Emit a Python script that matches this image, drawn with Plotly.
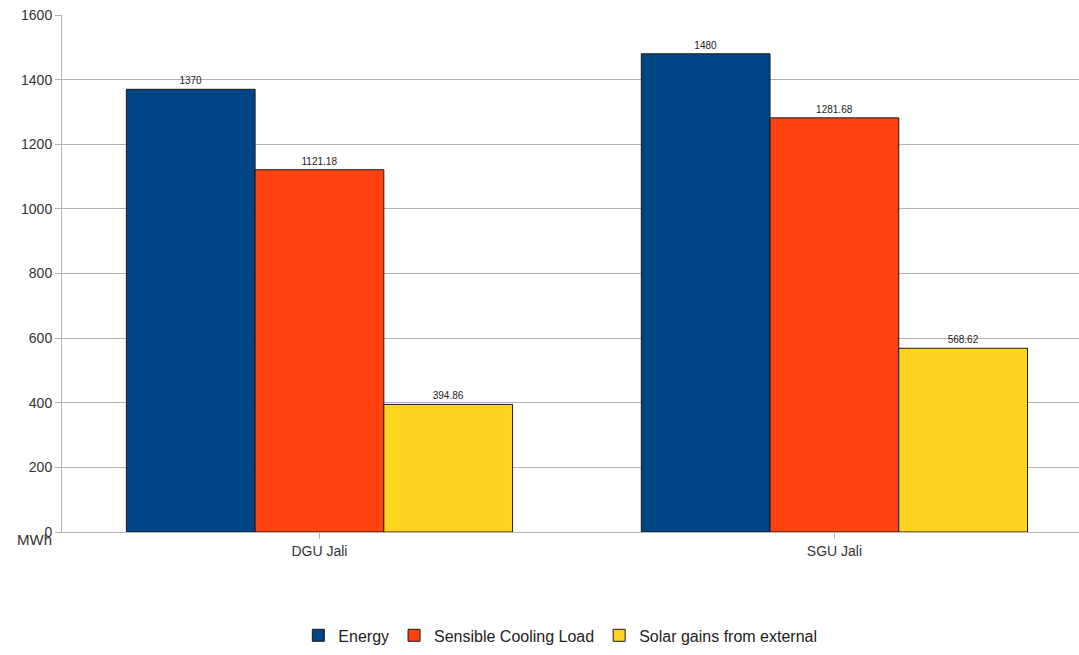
import plotly.graph_objects as go

categories = ["DGU Jali", "SGU Jali"]
series_names = ["Energy", "Sensible Cooling Load", "Solar gains from external"]
energy = [1370, 1480]
sensible_cooling = [1121.18, 1281.68]
solar_gains = [394.86, 568.62]
colors = ["#004586", "#ff420e", "#ffd320"]
y_ticks = [0, 200, 400, 600, 800, 1000, 1200, 1400, 1600]

fig = go.Figure()
for name, vals, col in zip(series_names, [energy, sensible_cooling, solar_gains], colors):
    fig.add_trace(go.Bar(
        x=categories, y=vals, name=name,
        marker=dict(color=col, line=dict(color="#1a1a1a", width=1)),
        text=[f"{v:g}" for v in vals], textposition="outside",
        textfont=dict(family="Liberation Sans, Arial", size=10, color="#222"),
        cliponaxis=False,
    ))

fig.update_layout(
    width=1079, height=655,
    margin=dict(l=62, r=0, t=15, b=123),
    paper_bgcolor="white", plot_bgcolor="white",
    barmode="group", bargap=0.25, bargroupgap=0,
    font=dict(family="Liberation Sans, Arial", size=14, color="#333"),
    showlegend=True,
    legend=dict(orientation="h", x=0.49, xanchor="center", y=-0.2, yanchor="middle",
                font=dict(size=16, color="#222"), itemwidth=30,
                traceorder="normal"),
    uniformtext=dict(minsize=10, mode="show"),
)
fig.update_yaxes(
    range=[0, 1600], tickvals=y_ticks, showgrid=True, gridcolor="#b3b3b3", gridwidth=1,
    showline=True, linecolor="#b3b3b3", ticks="outside", ticklen=6, tickcolor="#b3b3b3",
    tickfont=dict(size=14, color="#333"), zeroline=False,
)
# category spacing runs slightly past the right edge of the canvas
fig.update_xaxes(
    range=[-0.5, 1.475],
    showline=True, linecolor="#b3b3b3", ticks="outside", ticklen=6, tickcolor="#b3b3b3",
    tickson="labels", tickfont=dict(size=14, color="#333"),
)
fig.add_annotation(
    text="MWh", xref="paper", yref="paper", x=-0.027, y=0, xanchor="center", yanchor="middle",
    yshift=-7, showarrow=False, font=dict(size=15, color="#333"),
)

fig.write_html("out.html")
